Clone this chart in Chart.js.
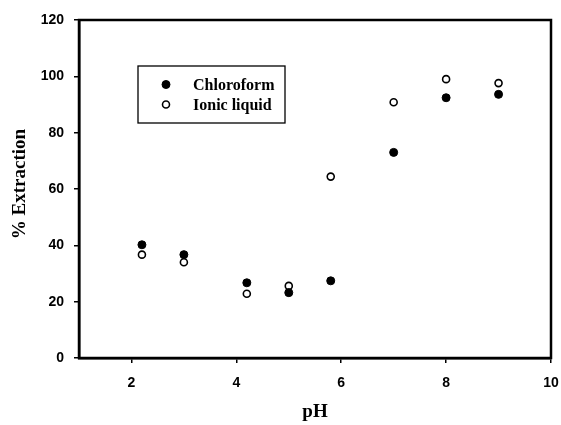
<!DOCTYPE html>
<html>
<head>
<meta charset="utf-8">
<script src="https://cdn.jsdelivr.net/npm/chart.js@4/dist/chart.umd.min.js"></script>
<style>
html,body{margin:0;padding:0;background:#fff;}
#wrap{width:561px;height:425px;position:relative;}
</style>
</head>
<body>
<div id="wrap"><canvas id="c" width="561" height="425"></canvas></div>
<script>
const pH = [2.2, 3.0, 4.2, 5.0, 5.8, 7.0, 8.0, 9.0];
const chloroform = [40.2, 36.7, 26.7, 23.2, 27.4, 73.0, 92.4, 93.6];
const ionicLiquid = [36.7, 34.0, 22.8, 25.6, 64.4, 90.8, 99.0, 97.6];
const xTicks = [2, 4, 6, 8, 10];
const yTicks = [0, 20, 40, 60, 80, 100, 120];
const seriesNames = ['Chloroform', 'Ionic liquid'];
const xTitle = 'pH';
const yTitle = '% Extraction';

const toPts = (ys) => pH.map((x, i) => ({x: x, y: ys[i]}));

const framePlugin = {
  id: 'frame',
  afterDraw(chart) {
    const ctx = chart.ctx;
    const a = chart.chartArea;
    ctx.save();
    ctx.strokeStyle = '#000';
    ctx.lineWidth = 2.5;
    ctx.strokeRect(a.left, a.top, a.right - a.left, a.bottom - a.top);
    // axis titles
    ctx.fillStyle = '#000';
    ctx.font = 'bold 19px "Liberation Serif", "Times New Roman", serif';
    ctx.textAlign = 'center';
    ctx.textBaseline = 'middle';
    ctx.fillText(xTitle, 315, 412);
    ctx.save();
    ctx.translate(20, 184);
    ctx.rotate(-Math.PI / 2);
    ctx.font = 'bold 19px "Liberation Serif", "Times New Roman", serif';
    ctx.fillText(yTitle, 0, 0);
    ctx.restore();
    // legend box
    const bx = 138, by = 66, bw = 147, bh = 57;
    ctx.lineWidth = 1.3;
    ctx.strokeRect(bx, by, bw, bh);
    const ds = chart.data.datasets;
    const rows = [84.5, 104.5];
    ctx.font = 'bold 16px "Liberation Serif", "Times New Roman", serif';
    ctx.textAlign = 'left';
    rows.forEach((ry, i) => {
      const d = ds[i];
      ctx.beginPath();
      ctx.arc(166, ry, d.pointRadius, 0, Math.PI * 2);
      ctx.fillStyle = d.pointBackgroundColor;
      ctx.fill();
      ctx.lineWidth = d.pointBorderWidth;
      ctx.strokeStyle = '#000';
      ctx.stroke();
      ctx.fillStyle = '#000';
      ctx.fillText(seriesNames[i], 193, ry + 1);
    });
    ctx.restore();
  }
};

const tickFont = {family: '"Liberation Sans", Arial, sans-serif', size: 14, weight: 'bold'};

new Chart(document.getElementById('c'), {
  type: 'scatter',
  data: {
    datasets: [
      {label: seriesNames[0], data: toPts(chloroform), pointRadius: 4, pointBackgroundColor: '#000', pointBorderColor: '#000', pointBorderWidth: 1, pointStyle: 'circle'},
      {label: seriesNames[1], data: toPts(ionicLiquid), pointRadius: 3.5, pointBackgroundColor: '#fff', pointBorderColor: '#000', pointBorderWidth: 1.6, pointStyle: 'circle'}
    ]
  },
  options: {
    responsive: false,
    animation: false,
    devicePixelRatio: 1,
    layout: {padding: {left: 0, right: 10, top: 20, bottom: 0}},
    plugins: {legend: {display: false}, tooltip: {enabled: false}},
    scales: {
      x: {
        type: 'linear', min: 1, max: 10,
        afterBuildTicks: (s) => { s.ticks = xTicks.map(v => ({value: v})); },
        afterFit: (s) => { s.height = 67; s.paddingLeft = 0; s.paddingRight = 0; },
        grid: {display: true, drawOnChartArea: false, drawTicks: true, tickLength: 5, color: '#000', lineWidth: 1.5},
        border: {display: true, color: '#000', width: 2.5},
        ticks: {color: '#000', font: tickFont, padding: 12, maxRotation: 0}
      },
      y: {
        type: 'linear', min: 0, max: 120,
        afterBuildTicks: (s) => { s.ticks = yTicks.map(v => ({value: v})); },
        afterFit: (s) => { s.width = 79; s.paddingTop = 0; s.paddingBottom = 0; },
        grid: {display: true, drawOnChartArea: false, drawTicks: true, tickLength: 5, color: '#000', lineWidth: 1.5},
        border: {display: true, color: '#000', width: 2.5},
        ticks: {color: '#000', font: tickFont, padding: 10}
      }
    }
  },
  plugins: [framePlugin]
});
</script>
</body>
</html>
